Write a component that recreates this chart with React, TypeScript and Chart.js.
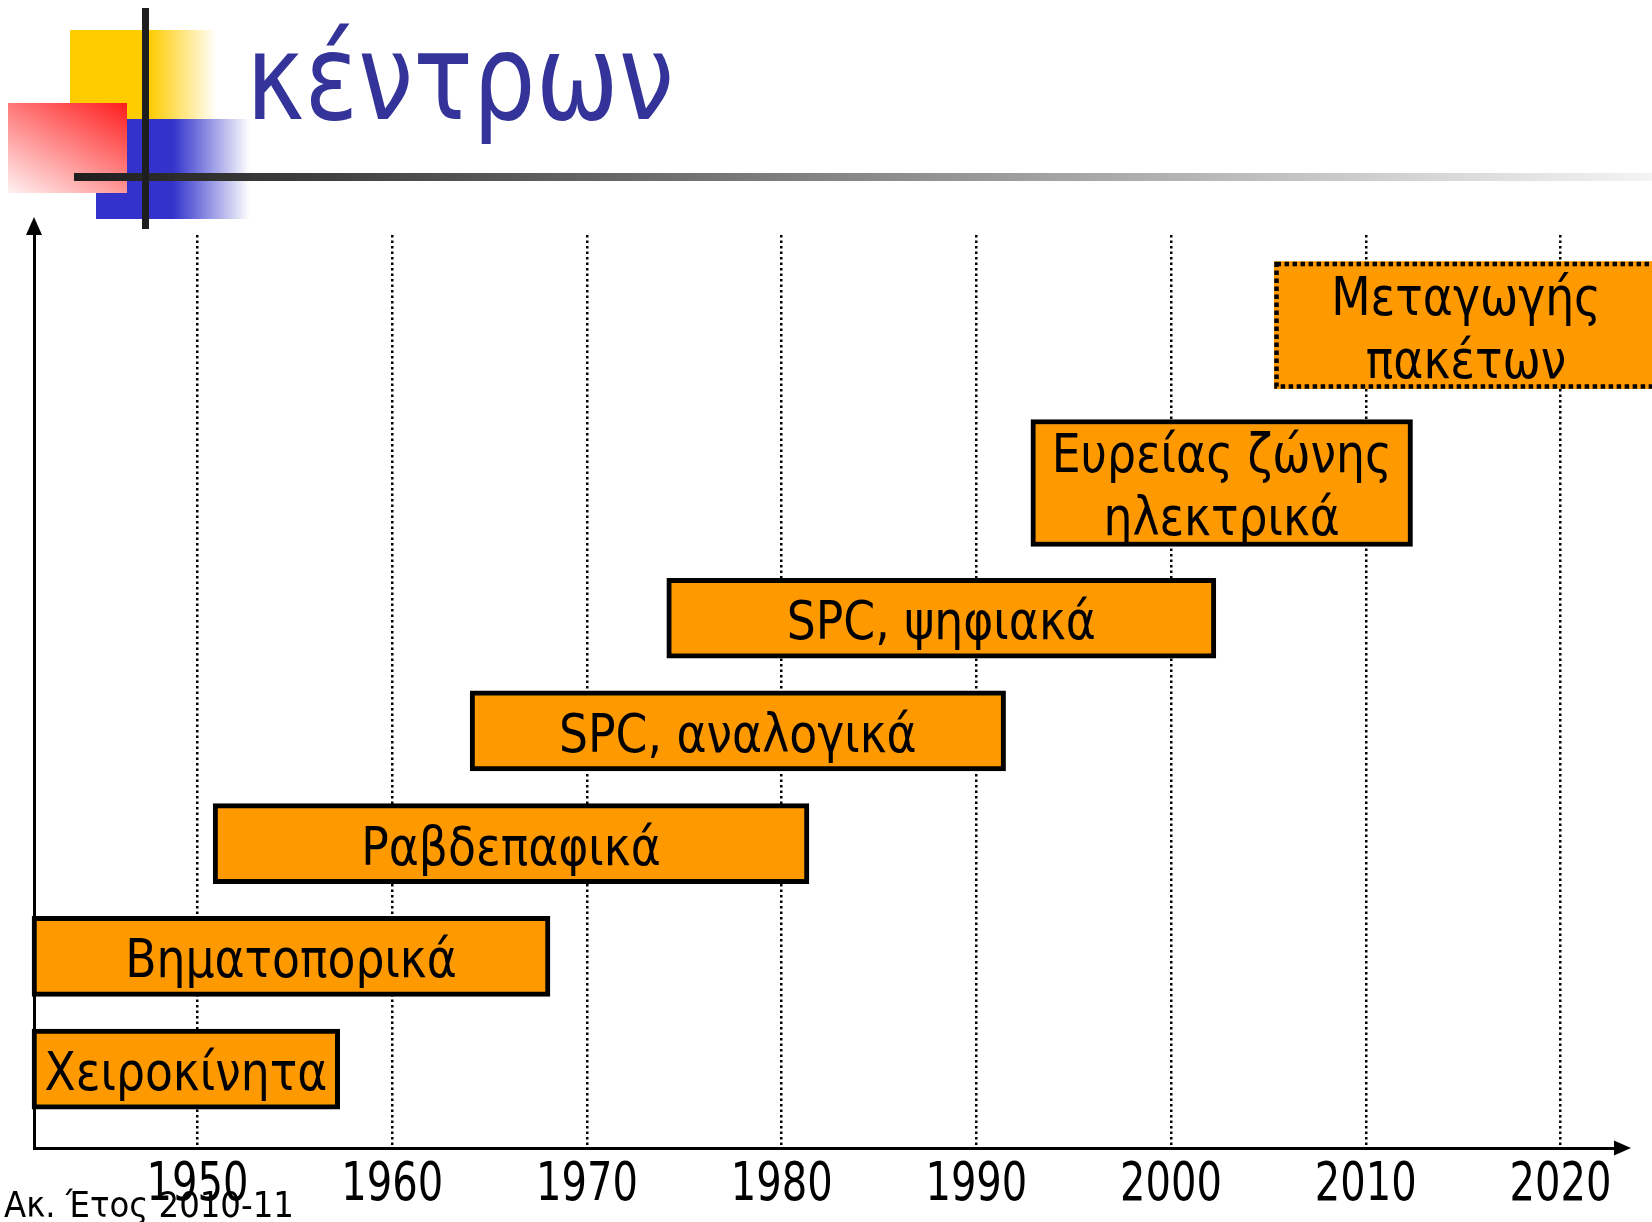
import React, { useEffect, useRef } from 'react';
import { Chart, registerables } from 'chart.js';

Chart.register(...registerables);

// ---- Text ----
const TITLE = 'κέντρων';
const FOOTER = 'Ακ. Έτος 2010-11';

// ---- X axis (years) ----
const TICK_YEARS = [1950, 1960, 1970, 1980, 1990, 2000, 2010, 2020];

// ---- Single-line bars ----
const SINGLE_LABELS = ['Χειροκίνητα', 'Βηματοπορικά', 'Ραβδεπαφικά', 'SPC, αναλογικά', 'SPC, ψηφιακά'];
const SINGLE_START = [1941.5, 1941.5, 1950.8, 1964, 1974.1];
const SINGLE_END = [1957.3, 1968.1, 1981.4, 1991.5, 2002.3];
const SINGLE_LEVEL = [1, 2, 3, 4, 5];

// ---- Two-line bars ----
const DOUBLE_LABELS = ['Ευρείας ζώνης\nηλεκτρικά', 'Μεταγωγής\nπακέτων'];
const DOUBLE_START = [1992.8, 2005.3];
const DOUBLE_END = [2012.4, 2025];
const DOUBLE_LEVEL = [6.2, 7.6];
const DOUBLE_DOTTED = [false, true];

const ORANGE = '#ff9900';
const FAMILY = '"DejaVu Sans Condensed", "DejaVu Sans", sans-serif';
const LABEL_FONT = '54px ' + FAMILY;
const LABEL_SQUEEZE = 0.94;
const TICK_SQUEEZE = 0.84;

export default function App() {
  const ref = useRef<HTMLCanvasElement>(null);

  useEffect(() => {
    document.body.style.margin = '0';
    const canvas = ref.current!;

    const decor = {
      id: 'decor',
      beforeDraw(chart: any) {
        const ctx = chart.ctx as CanvasRenderingContext2D;
        ctx.save();
        ctx.fillStyle = '#ffffff';
        ctx.fillRect(0, 0, chart.width, chart.height);
        // yellow square
        let g = ctx.createLinearGradient(70, 0, 217, 0);
        g.addColorStop(0, '#ffcc00');
        g.addColorStop(0.54, '#ffcc00');
        g.addColorStop(1, 'rgba(255,204,0,0)');
        ctx.fillStyle = g;
        ctx.fillRect(70, 30, 147, 89);
        // blue square
        g = ctx.createLinearGradient(96, 0, 250, 0);
        g.addColorStop(0, '#3333cc');
        g.addColorStop(0.5, '#3333cc');
        g.addColorStop(1, 'rgba(51,51,204,0)');
        ctx.fillStyle = g;
        ctx.fillRect(96, 119, 154, 100);
        // red square
        g = ctx.createLinearGradient(30, 215, 105, 81);
        g.addColorStop(0, '#ffffff');
        g.addColorStop(1, '#ff1010');
        ctx.fillStyle = g;
        ctx.fillRect(8, 103, 119, 90);
        // horizontal rule
        g = ctx.createLinearGradient(74, 0, 1652, 0);
        g.addColorStop(0, '#1e1e1e');
        g.addColorStop(1, '#f4f4f4');
        ctx.fillStyle = g;
        ctx.fillRect(74, 173, 1578, 8);
        // vertical rule
        ctx.fillStyle = '#1e1e1e';
        ctx.fillRect(142, 8, 7, 221);
        // title
        ctx.fillStyle = '#333399';
        ctx.font = '120px ' + FAMILY;
        ctx.textAlign = 'left';
        ctx.textBaseline = 'alphabetic';
        ctx.fillText(TITLE, 246, 119, 428);
        ctx.restore();

        // squeeze the axis tick labels (drawn by Chart.js next) horizontally
        const orig = CanvasRenderingContext2D.prototype.fillText;
        (ctx as any).fillText = function (t: string, x: number, y: number, mw?: number) {
          const w = this.measureText(t).width * TICK_SQUEEZE;
          return orig.call(this, t, x, y, mw !== undefined ? Math.min(mw, w) : w);
        };
      },
      beforeDatasetsDraw(chart: any) {
        delete (chart.ctx as any).fillText;
      },
      afterDatasetsDraw(chart: any) {
        const ctx = chart.ctx as CanvasRenderingContext2D;
        const groups = [
          { labels: SINGLE_LABELS, dotted: SINGLE_LABELS.map(() => false) },
          { labels: DOUBLE_LABELS, dotted: DOUBLE_DOTTED },
        ];
        ctx.save();
        groups.forEach((grp, di) => {
          const meta = chart.getDatasetMeta(di);
          meta.data.forEach((el: any, i: number) => {
            const p = el.getProps(['x', 'y', 'base', 'height'], true);
            const left = Math.min(p.x, p.base);
            const right = Math.max(p.x, p.base);
            const top = p.y - p.height / 2;
            if (grp.dotted[i]) {
              ctx.save();
              ctx.strokeStyle = '#000';
              ctx.lineWidth = 4.5;
              ctx.setLineDash([4.5, 3.5]);
              ctx.strokeRect(left + 2.25, top + 2.25, right - left - 4.5, p.height - 4.5);
              ctx.restore();
            }
            ctx.fillStyle = '#000';
            ctx.font = LABEL_FONT;
            ctx.textAlign = 'center';
            ctx.textBaseline = 'alphabetic';
            const lines = grp.labels[i].split('\n');
            const lh = 63;
            lines.forEach((ln, k) => {
              const by = p.y + 21 + (k - (lines.length - 1) / 2) * lh;
              ctx.fillText(ln, (left + right) / 2, by, ctx.measureText(ln).width * LABEL_SQUEEZE);
            });
          });
        });
        ctx.restore();
      },
      afterDraw(chart: any) {
        const ctx = chart.ctx as CanvasRenderingContext2D;
        const a = chart.chartArea;
        ctx.save();
        ctx.fillStyle = '#000';
        // y arrow
        ctx.beginPath();
        ctx.moveTo(a.left, a.top - 18);
        ctx.lineTo(a.left - 8, a.top);
        ctx.lineTo(a.left + 8, a.top);
        ctx.closePath();
        ctx.fill();
        // x arrow
        ctx.beginPath();
        ctx.moveTo(a.right + 16, a.bottom);
        ctx.lineTo(a.right - 1, a.bottom - 7.5);
        ctx.lineTo(a.right - 1, a.bottom + 7.5);
        ctx.closePath();
        ctx.fill();
        // footer
        ctx.font = '36px ' + FAMILY;
        ctx.textAlign = 'left';
        ctx.textBaseline = 'alphabetic';
        ctx.fillText(FOOTER, 4, 1217);
        ctx.restore();
      },
    };

    const chart = new Chart(canvas, {
      type: 'bar',
      data: {
        datasets: [
          {
            data: SINGLE_LABELS.map((_, i) => ({ x: [SINGLE_START[i], SINGLE_END[i]], y: SINGLE_LEVEL[i] })) as any,
            backgroundColor: ORANGE,
            borderColor: '#000',
            borderWidth: 5,
            borderSkipped: false,
            barThickness: 80,
            grouped: false,
            clip: false as any,
          },
          {
            data: DOUBLE_LABELS.map((_, i) => ({ x: [DOUBLE_START[i], DOUBLE_END[i]], y: DOUBLE_LEVEL[i] })) as any,
            backgroundColor: ORANGE,
            borderColor: '#000',
            borderWidth: DOUBLE_DOTTED.map((d) => (d ? 0 : 5)) as any,
            borderSkipped: false,
            barThickness: 127,
            grouped: false,
            clip: false as any,
          },
        ],
      },
      options: {
        responsive: false,
        animation: false,
        indexAxis: 'y',
        layout: { padding: { left: 34, right: 37, top: 235, bottom: 14 } },
        plugins: {
          legend: { display: false },
          tooltip: { enabled: false },
          title: { display: false },
        },
        scales: {
          x: {
            type: 'linear',
            position: 'bottom',
            min: 1941.6,
            max: 2022.8,
            afterBuildTicks: (s: any) => {
              s.ticks = TICK_YEARS.map((v) => ({ value: v }));
            },
            afterFit: (s: any) => {
              s.height = 60;
            },
            grid: { color: '#000', lineWidth: 2.5, drawTicks: false },
            border: { display: true, color: '#000', width: 3, dash: [2.5, 3] },
            ticks: {
              color: '#000',
              padding: 6,
              maxRotation: 0,
              autoSkip: false,
              font: { family: FAMILY, size: 53 },
              callback: (v: any) => String(v),
            },
          },
          y: {
            type: 'linear',
            offset: false,
            min: 0.3,
            max: 8.4,
            afterFit: (s: any) => {
              s.width = 0;
            },
            grid: { display: false, offset: false },
            ticks: { display: false },
            border: { display: true, color: '#000', width: 3 },
          },
        },
      },
      plugins: [decor],
    });
    return () => chart.destroy();
  }, []);

  return (
    <div style={{ width: 1652, height: 1222, position: 'relative' }}>
      <canvas ref={ref} width={1652} height={1222} style={{ display: 'block', width: 1652, height: 1222 }} />
    </div>
  );
}
